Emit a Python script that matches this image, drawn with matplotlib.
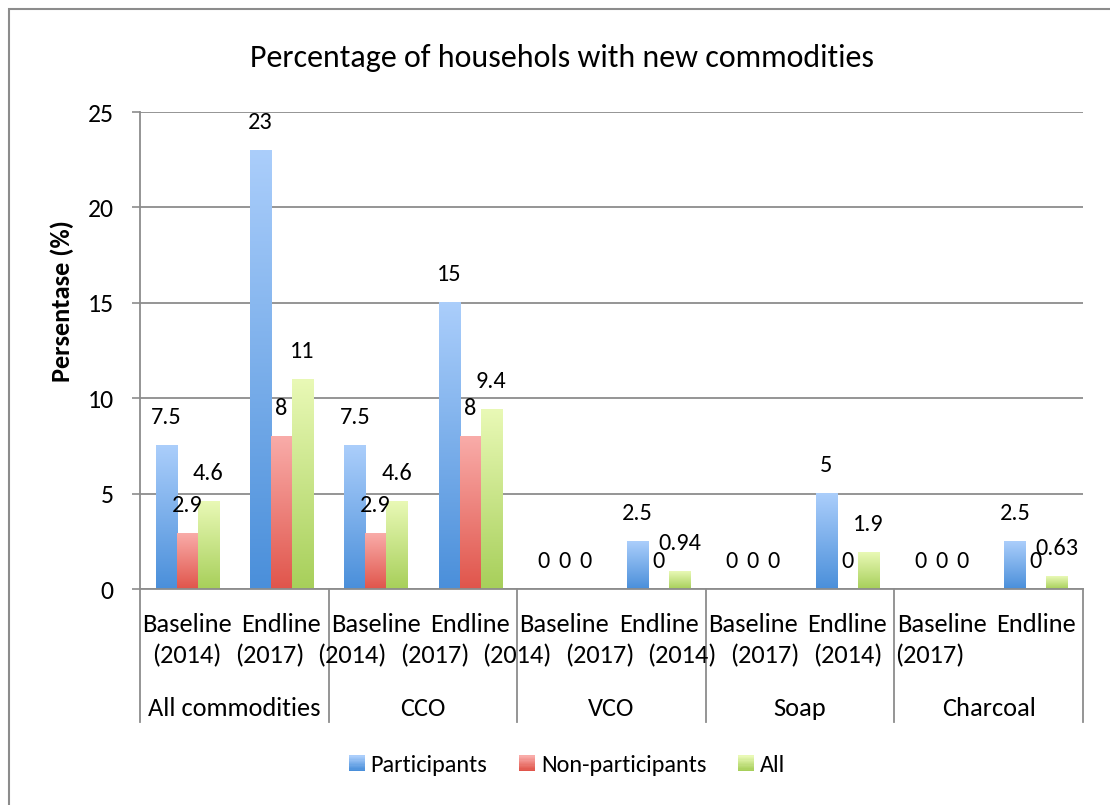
import numpy as np
import matplotlib.pyplot as plt
from matplotlib.colors import LinearSegmentedColormap
from matplotlib.patches import Rectangle
from matplotlib.legend_handler import HandlerBase

plt.rcParams['font.family'] = ['Carlito', 'Lato', 'DejaVu Sans']

periods = ['Baseline', 'Endline', 'Baseline', 'Endline', 'Baseline',
           'Endline', 'Baseline', 'Endline', 'Baseline', 'Endline']
years = ['(2014)', '(2017)', '(2014)', '(2017)', '(2014)',
         '(2017)', '(2014)', '(2017)', '(2014)', '(2017)']
commodities = ['All commodities', 'CCO', 'VCO', 'Soap', 'Charcoal']

participants = [7.5, 23, 7.5, 15, 0, 2.5, 0, 5, 0, 2.5]
non_participants = [2.9, 8, 2.9, 8, 0, 0, 0, 0, 0, 0]
all_households = [4.6, 11, 4.6, 9.4, 0, 0.94, 0, 1.9, 0, 0.63]

series = [
    ('Participants', participants, ('#4a8fda', '#abcefb')),
    ('Non-participants', non_participants, ('#e0554b', '#f9aca9')),
    ('All', all_households, ('#a7cf5a', '#e9f9b6')),
]

GRID = '#8c8c8c'


class GradientHandler(HandlerBase):
    """Legend key drawn as a small vertically shaded square."""

    def __init__(self, cmap):
        super().__init__()
        self.cmap = cmap

    def create_artists(self, legend, orig_handle, xdescent, ydescent,
                       width, height, fontsize, trans):
        n = 12
        side = min(width, height)
        x0 = -xdescent + (width - side)
        y0 = -ydescent
        arts = []
        for i in range(n):
            r = Rectangle((x0, y0 + side * i / n), side, side / n + 0.3,
                          facecolor=self.cmap(i / (n - 1)), edgecolor='none',
                          transform=trans)
            arts.append(r)
        return arts


fig = plt.figure(figsize=(11.1, 8.05), dpi=100)
ax = fig.add_axes([140 / 1110, 1 - 589 / 805, (1083 - 140) / 1110, (589 - 112) / 805])

x = np.arange(len(periods))
w = 0.223
cmaps = []
grad = np.linspace(0, 1, 256).reshape(-1, 1)
for k, (name, vals, (dark, light)) in enumerate(series):
    cmap = LinearSegmentedColormap.from_list(name, [dark, light])
    cmaps.append(cmap)
    bars = ax.bar(x + (k - 1) * w, vals, w, color='none', zorder=2)
    for b, v in zip(bars, vals):
        if v > 0:
            ax.imshow(grad, extent=[b.get_x(), b.get_x() + b.get_width(), 0, v],
                      origin='lower', aspect='auto', cmap=cmap, zorder=2)
        ax.annotate(f'{v:g}', (b.get_x() + b.get_width() / 2, v),
                    xytext=(0, 28), textcoords='offset pixels',
                    ha='center', va='center', fontsize=17.5, zorder=4)

ax.set_xlim(-0.5, len(periods) - 0.5)
ax.set_ylim(0, 25)
ax.set_yticks(np.arange(0, 26, 5))
ax.tick_params(axis='y', labelsize=18.5, length=6, width=1.2, color=GRID, pad=13)
ax.set_xticks([])
ax.grid(axis='y', color=GRID, linewidth=1.3, zorder=0)
ax.set_axisbelow(True)
for s in ['top', 'right']:
    ax.spines[s].set_visible(False)
for s in ['left', 'bottom']:
    ax.spines[s].set_color(GRID)
    ax.spines[s].set_linewidth(1.3)

# two-level category axis
xt = ax.get_xaxis_transform()
for gx in np.arange(-0.5, len(periods), 2):
    ax.plot([gx, gx], [0, -0.279], transform=xt, color=GRID, lw=1.3, clip_on=False)
for i, p in enumerate(periods):
    ax.text(i, -0.0734, p, transform=xt, ha='center', va='center', fontsize=19)
# the year line runs a little tighter than the slots
year_step = 0.875
for i, yr in enumerate(years):
    ax.text(i * year_step, -0.1405, yr, transform=xt, ha='center', va='center', fontsize=19)
for j, c in enumerate(commodities):
    ax.text(2 * j + 0.5, -0.2495, c, transform=xt, ha='center', va='center', fontsize=19)

fig.text(62 / 1110, 1 - 301 / 805, 'Persentase (%)', rotation=90,
         ha='center', va='center', fontsize=19, fontweight='bold')

fig.text(562 / 1110, 1 - 58 / 805, 'Percentage of househols with new commodities',
         ha='center', va='center', fontsize=23)

handles = [Rectangle((0, 0), 1, 1) for _ in series]
fig.legend(handles, [s[0] for s in series],
           handler_map={h: GradientHandler(c) for h, c in zip(handles, cmaps)},
           loc='center', bbox_to_anchor=(567 / 1110, 1 - 765 / 805), ncol=3,
           frameon=False, fontsize=17.5, handlelength=0.65, handleheight=0.65,
           handletextpad=0.25, columnspacing=1.3)

fig.patches.append(Rectangle((9 / 1110, -0.1), 1.2, 1 - 9 / 805 + 0.1, fill=False,
                             edgecolor='#8c8c8c', lw=1.5, transform=fig.transFigure))

fig.savefig('out.png', dpi=100)
